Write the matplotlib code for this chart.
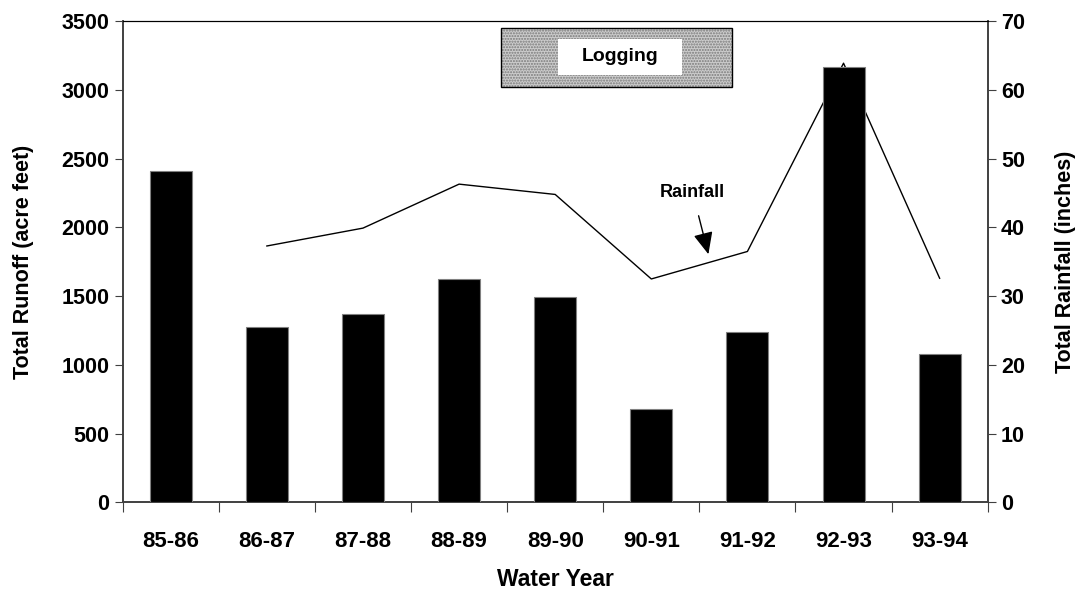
import matplotlib.pyplot as plt
from matplotlib.patches import Rectangle

plt.rcParams['font.family'] = ['Liberation Sans', 'DejaVu Sans']
plt.rcParams['font.weight'] = 'bold'

# Data
years = ['85-86', '86-87', '87-88', '88-89', '89-90', '90-91', '91-92', '92-93', '93-94']
runoff = [2410, 1278, 1370, 1625, 1492, 677, 1237, 3168, 1077]
rain_years = years[1:]
rainfall = [37.3, 39.9, 46.3, 44.8, 32.5, 36.5, 63.9, 32.6]

fig = plt.figure(figsize=(10.83, 5.93), dpi=100)
ax = fig.add_axes([0.1133, 0.153, 0.7987, 0.8111])
ax2 = ax.twinx()

xpos = [i + 0.5 for i in range(len(years))]
rain_x = [years.index(y) + 0.5 for y in rain_years]

# Rainfall line sits under the bars
ax2.plot(rain_x, rainfall, color='black', lw=1)
ax.bar(xpos, runoff, width=0.437, color='black', edgecolor='#808080', lw=0.8, zorder=3)
ax.set_zorder(ax2.get_zorder() + 1)
ax.patch.set_visible(False)

ax.set_xlim(0, len(years))
ax.set_ylim(0, 3500)
ax2.set_ylim(0, 70)
ax.set_yticks(range(0, 3501, 500))
ax2.set_yticks(range(0, 71, 10))

# category boundaries get the ticks, labels go in the middle
ax.set_xticks(range(len(years) + 1))
ax.set_xticklabels([])
ax.set_xticks(xpos, minor=True)
ax.set_xticklabels(years, minor=True)
ax.tick_params(axis='x', which='major', length=7, direction='out', color='#404040')
ax.tick_params(axis='x', which='minor', length=0, pad=21, labelsize=16)
ax.tick_params(axis='y', length=6, direction='out', labelsize=15.5, color='#404040')
ax2.tick_params(axis='y', length=6, direction='out', labelsize=15.5, color='#404040')

for a in (ax, ax2):
    for s in ('left', 'right', 'bottom'):
        a.spines[s].set_color('#404040')
        a.spines[s].set_linewidth(1.2)
    a.spines['top'].set_color('black')

ax.set_xlabel('Water Year', fontsize=16.5, fontweight='bold', labelpad=11)
ax.set_ylabel('Total Runoff (acre feet)', fontsize=15.5, fontweight='bold', labelpad=20)
ax2.set_ylabel('Total Rainfall (inches)', fontsize=15.5, fontweight='bold', labelpad=22)

# Logging box
ax.add_patch(Rectangle((0.437, 0.8628), 0.267, 0.1226, transform=ax.transAxes,
                       facecolor='#cccccc', edgecolor='#7a7a7a', hatch='......', lw=0, zorder=5))
ax.add_patch(Rectangle((0.437, 0.8628), 0.267, 0.1226, transform=ax.transAxes,
                       fill=False, edgecolor='black', lw=1, zorder=6))
ax.add_patch(Rectangle((0.5036, 0.8884), 0.1427, 0.0742, transform=ax.transAxes,
                       facecolor='white', edgecolor='none', zorder=7))
ax.text(0.575, 0.926, 'Logging', transform=ax.transAxes, ha='center', va='center',
        fontsize=14, fontweight='bold', zorder=8)

# Rainfall arrow
ax2.annotate('Rainfall', xy=(6.094, 36.1), xytext=(5.93, 45.1),
             ha='center', va='center', fontsize=13, fontweight='bold',
             arrowprops=dict(arrowstyle='-|>,head_length=0.9,head_width=0.4',
                             color='black', lw=1, shrinkA=9, shrinkB=0,
                             mutation_scale=15))

fig.savefig('out.png', dpi=100)
